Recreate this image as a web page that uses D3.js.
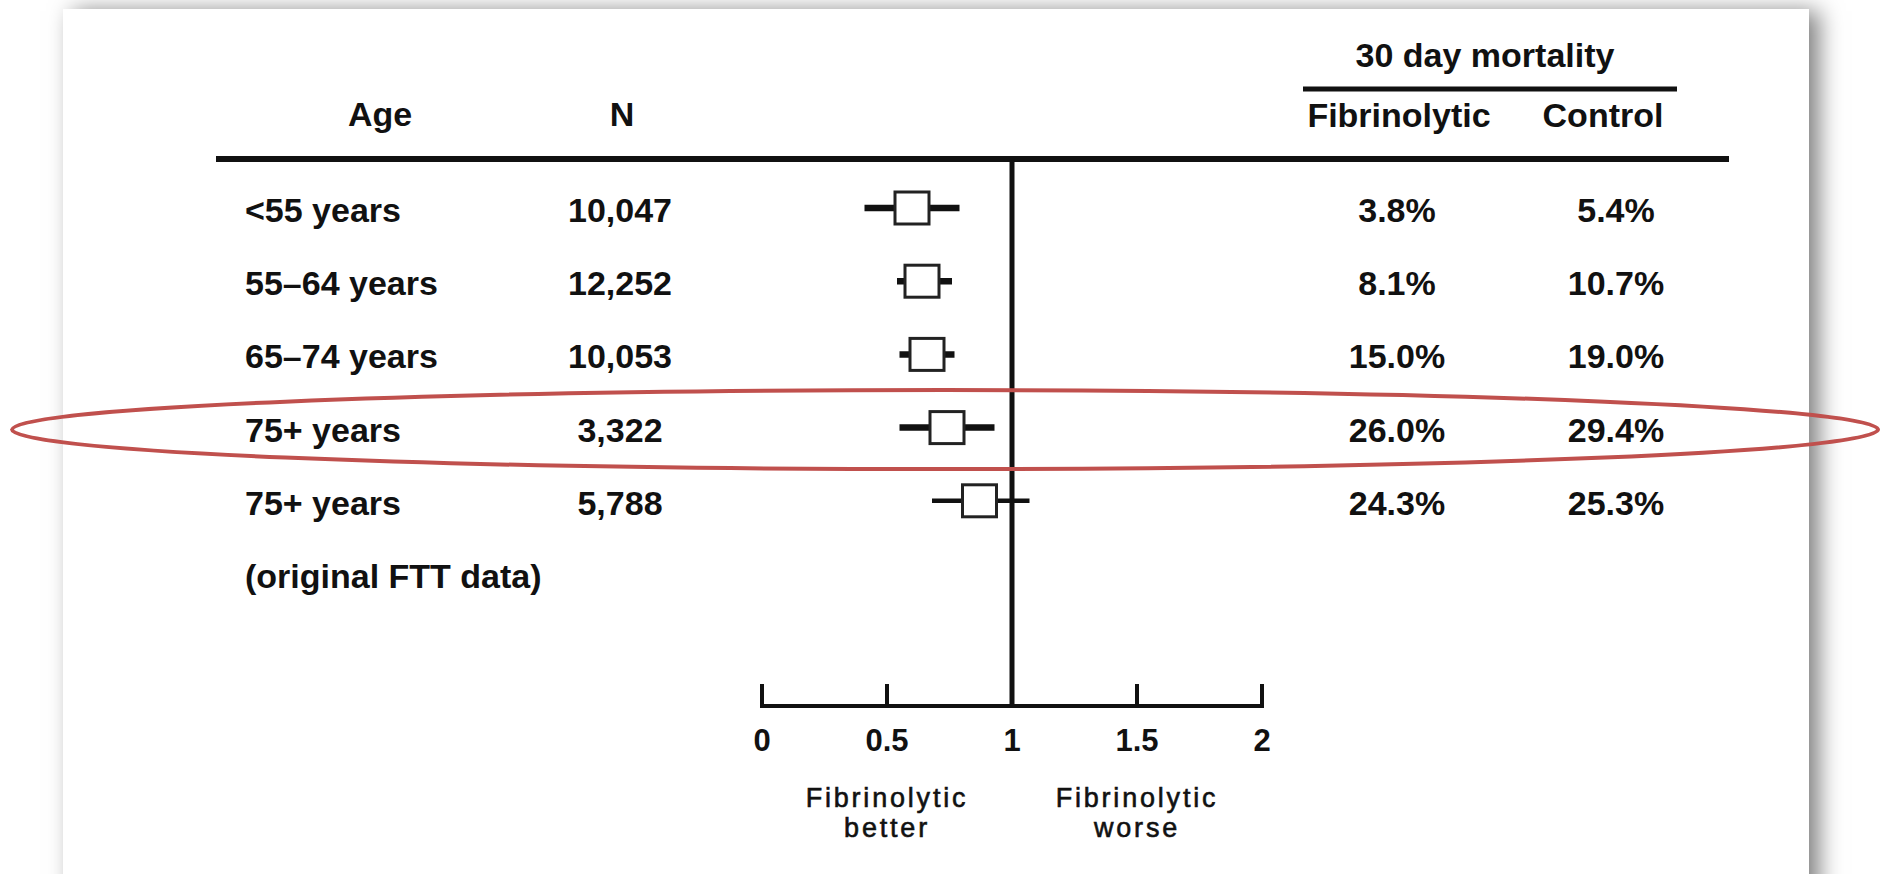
<!DOCTYPE html>
<html>
<head>
<meta charset="utf-8">
<script src="https://cdn.jsdelivr.net/npm/d3@7"></script>
<style>
  html, body { margin: 0; padding: 0; background: #ffffff; overflow: hidden; }
  #card {
    position: absolute; left: 63px; top: 9px; width: 1746px; height: 900px;
    background: #ffffff;
    box-shadow: 10px 2px 22px rgba(0,0,0,0.5);
  }
  svg { position: absolute; left: 0; top: 0; }
  text { font-family: "Liberation Sans", Arial, Helvetica, sans-serif; fill: #111; }
</style>
</head>
<body>
<div id="card"></div>
<script>
// Forest plot: fibrinolytic therapy vs control, 30-day mortality by age group
const ageGroups = ["<55 years", "55\u201364 years", "65\u201374 years", "75+ years", "75+ years"];
const rowNote = "(original FTT data)";
const sampleSizes = ["10,047", "12,252", "10,053", "3,322", "5,788"];
const oddsRatio = [0.60, 0.64, 0.66, 0.74, 0.87];
const ciLower = [0.41, 0.54, 0.55, 0.55, 0.68];
const ciUpper = [0.79, 0.76, 0.77, 0.93, 1.07];
const fibrinolyticMortality = [3.8, 8.1, 15.0, 26.0, 24.3];
const controlMortality = [5.4, 10.7, 19.0, 29.4, 25.3];
const axisTicks = [0, 0.5, 1, 1.5, 2];
const axisNotes = [
  { at: 0.5, lines: ["Fibrinolytic", "better"] },
  { at: 1.5, lines: ["Fibrinolytic", "worse"] }
];
const highlightRow = 3;

const W = 1885, H = 874;
const svg = d3.select("body").append("svg").attr("width", W).attr("height", H);

const rows = d3.range(ageGroups.length + 1);
const x = d3.scaleLinear().domain([0, 2]).range([762, 1262]);
const y = d3.scalePoint().domain(rows).range([209, 575]);
const pct = v => d3.format(".1f")(v) + "%";

const col = { age: 245, n: 620, fib: 1397, ctl: 1616 };
const ruleY = 159, axisY = 706;
const bold = 34;

// Column headers
const head = svg.append("g").attr("font-weight", "bold").attr("font-size", bold).attr("text-anchor", "middle");
head.append("text").attr("x", 380).attr("y", 126).text("Age");
head.append("text").attr("x", 622).attr("y", 126).text("N");
head.append("text").attr("x", 1399).attr("y", 127).text("Fibrinolytic");
head.append("text").attr("x", 1603).attr("y", 127).text("Control");
head.append("text").attr("x", 1485).attr("y", 67).text("30 day mortality");
svg.append("line").attr("x1", 1303).attr("x2", 1677).attr("y1", 89).attr("y2", 89)
  .attr("stroke", "#111").attr("stroke-width", 5);
svg.append("line").attr("x1", 216).attr("x2", 1729).attr("y1", ruleY).attr("y2", ruleY)
  .attr("stroke", "#111").attr("stroke-width", 6);

// Line of no effect
svg.append("line").attr("x1", x(1)).attr("x2", x(1)).attr("y1", ruleY).attr("y2", axisY)
  .attr("stroke", "#111").attr("stroke-width", 5);

// Table text
const body = svg.append("g").attr("font-weight", "bold").attr("font-size", bold);
const idx = d3.range(ageGroups.length);
body.selectAll("text.age").data(idx).join("text").attr("class", "age")
  .attr("x", col.age).attr("y", i => y(i) + 13).text(i => ageGroups[i]);
body.append("text").attr("x", col.age).attr("y", y(ageGroups.length) + 13).text(rowNote);
body.selectAll("text.n").data(idx).join("text").attr("class", "n")
  .attr("text-anchor", "middle").attr("x", col.n).attr("y", i => y(i) + 13).text(i => sampleSizes[i]);
body.selectAll("text.fib").data(idx).join("text").attr("class", "fib")
  .attr("text-anchor", "middle").attr("x", col.fib).attr("y", i => y(i) + 13).text(i => pct(fibrinolyticMortality[i]));
body.selectAll("text.ctl").data(idx).join("text").attr("class", "ctl")
  .attr("text-anchor", "middle").attr("x", col.ctl).attr("y", i => y(i) + 13).text(i => pct(controlMortality[i]));

// Confidence intervals and point estimates
const marks = svg.append("g");
marks.selectAll("line.ci").data(idx).join("line").attr("class", "ci")
  .attr("x1", i => x(ciLower[i])).attr("x2", i => x(ciUpper[i]))
  .attr("y1", i => y(i) - 1).attr("y2", i => y(i) - 1)
  .attr("stroke", "#111").attr("stroke-width", i => i === idx.length - 1 ? 4.5 : 6.5);
const bw = 34, bh = 32;
marks.selectAll("rect.est").data(idx).join("rect").attr("class", "est")
  .attr("x", i => x(oddsRatio[i]) - bw / 2).attr("y", i => y(i) - 1 - bh / 2)
  .attr("width", bw).attr("height", bh)
  .attr("fill", "#fff").attr("stroke", "#222").attr("stroke-width", 3);

// Odds ratio axis
const axis = svg.append("g").attr("transform", `translate(0,${axisY})`);
axis.append("line").attr("x1", x(0) - 2).attr("x2", x(2) + 2).attr("stroke", "#111").attr("stroke-width", 4);
axis.selectAll("line.tick").data(axisTicks).join("line").attr("class", "tick")
  .attr("x1", d => x(d)).attr("x2", d => x(d)).attr("y1", 0).attr("y2", -22)
  .attr("stroke", "#111").attr("stroke-width", 4);
axis.selectAll("text.tl").data(axisTicks).join("text").attr("class", "tl")
  .attr("x", d => x(d)).attr("y", 45).attr("text-anchor", "middle")
  .attr("font-weight", "bold").attr("font-size", 31).text(d => d);
axisNotes.forEach(n => {
  const t = axis.append("text").attr("text-anchor", "middle").attr("font-size", 27)
    .attr("letter-spacing", 2.8).attr("stroke", "#111").attr("stroke-width", 0.6);
  n.lines.forEach((ln, k) => t.append("tspan").attr("x", x(n.at)).attr("y", 101 + k * 30).text(ln));
});

// Highlight ring around the 75+ row
svg.append("ellipse").attr("cx", 945).attr("cy", y(highlightRow) + 1).attr("rx", 933).attr("ry", 39.5)
  .attr("fill", "none").attr("stroke", "#c0504d").attr("stroke-width", 4);
</script>
</body>
</html>
